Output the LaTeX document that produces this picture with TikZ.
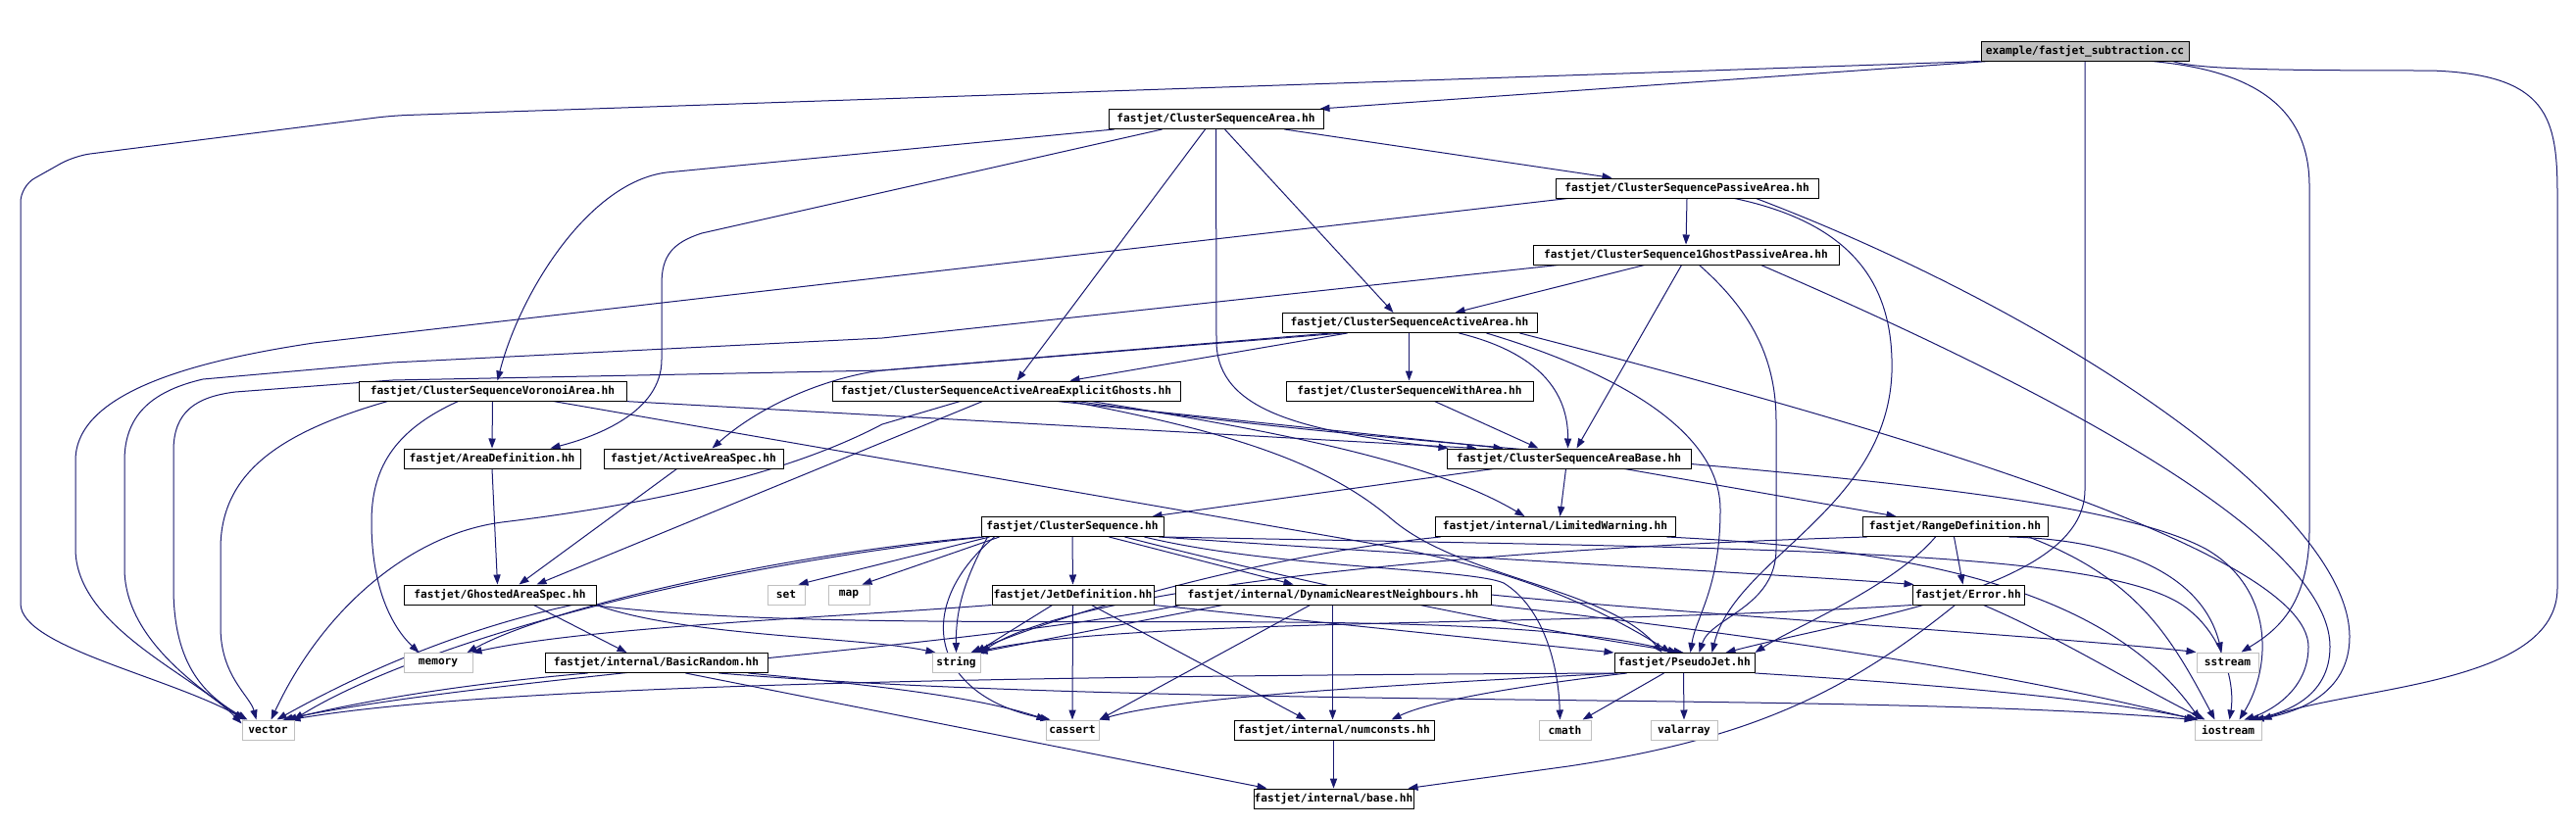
\documentclass[tikz,border=0pt]{standalone}
\usepackage{fontspec}
\newfontfamily\dmono{DejaVu Sans Mono}
\usetikzlibrary{arrows.meta,calc}
\pgfdeclarelayer{bg}
\pgfsetlayers{bg,main}
\definecolor{edgecol}{HTML}{191970}
\definecolor{syscol}{HTML}{BFBFBF}
\tikzset{
  hdr/.style={draw=black, fill=white, line width=0.5pt, inner sep=0pt, minimum height=10pt,
    font=\dmono\bfseries\fontsize{5.6}{6.5}\selectfont, text=black},
  sys/.style={hdr, draw=syscol},
  edg/.style={draw=edgecol, line width=0.5pt, -{Triangle[length=5pt,width=3.6pt]}},
}
\begin{document}
\begin{tikzpicture}[x=0.5pt,y=-0.5pt]
\useasboundingbox (0,0) rectangle (2628,842);
% ---------------- nodes ----------------
\node[hdr, fill=syscol, minimum width=106pt] (sub) at (2127,52) {example/fastjet\_subtraction.cc};
\node[hdr, minimum width=109.5pt] (csa) at (1240.5,121.5) {fastjet/ClusterSequenceArea.hh};
\node[hdr, minimum width=134pt] (cspa) at (1721,192) {fastjet/ClusterSequencePassiveArea.hh};
\node[hdr, minimum width=156pt] (cs1g) at (1720,260) {fastjet/ClusterSequence1GhostPassiveArea.hh};
\node[hdr, minimum width=130pt] (csaa) at (1438,329.5) {fastjet/ClusterSequenceActiveArea.hh};
\node[hdr, minimum width=136.5pt] (csva) at (502.5,399) {fastjet/ClusterSequenceVoronoiArea.hh};
\node[hdr, minimum width=177.5pt] (csaeg) at (1026.5,399) {fastjet/ClusterSequenceActiveAreaExplicitGhosts.hh};
\node[hdr, minimum width=126pt] (cswa) at (1438,399) {fastjet/ClusterSequenceWithArea.hh};
\node[hdr, minimum width=90pt] (ad) at (502,468) {fastjet/AreaDefinition.hh};
\node[hdr, minimum width=91.5pt] (aas) at (707.5,468) {fastjet/ActiveAreaSpec.hh};
\node[hdr, minimum width=124.5pt] (csab) at (1600.5,468) {fastjet/ClusterSequenceAreaBase.hh};
\node[hdr, minimum width=93pt] (cs) at (1094,537.5) {fastjet/ClusterSequence.hh};
\node[hdr, minimum width=122.5pt] (lw) at (1586.5,537.5) {fastjet/internal/LimitedWarning.hh};
\node[hdr, minimum width=94.5pt] (rd) at (1994.5,537.5) {fastjet/RangeDefinition.hh};
\node[hdr, minimum width=98pt] (gas) at (510,607) {fastjet/GhostedAreaSpec.hh};
\node[sys, minimum width=19pt] (set) at (802,607) {set};
\node[sys, minimum width=21pt] (map) at (866,607) {map};
\node[hdr, minimum width=82.5pt] (jd) at (1094.5,607) {fastjet/JetDefinition.hh};
\node[hdr, minimum width=161pt] (dnn) at (1360,607) {fastjet/internal/DynamicNearestNeighbours.hh};
\node[hdr, minimum width=57pt] (err) at (2008,607) {fastjet/Error.hh};
\node[sys, minimum width=35pt] (memory) at (447,676.5) {memory};
\node[hdr, minimum width=113.5pt] (br) at (669.5,676.5) {fastjet/internal/BasicRandom.hh};
\node[sys, minimum width=24.5pt] (string) at (975.5,676.5) {string};
\node[hdr, minimum width=71.5pt] (pj) at (1718.5,676.5) {fastjet/PseudoJet.hh};
\node[sys, minimum width=31.5pt] (sstream) at (2272.5,676) {sstream};
\node[sys, minimum width=26.5pt] (vector) at (273.5,745) {vector};
\node[sys, minimum width=27pt] (cassert) at (1094,745) {cassert};
\node[hdr, minimum width=102pt] (numconsts) at (1361,745) {fastjet/internal/numconsts.hh};
\node[sys, minimum width=26.5pt] (cmath) at (1596.5,745) {cmath};
\node[sys, minimum width=34pt] (valarray) at (1718,745) {valarray};
\node[sys, minimum width=34pt] (iostream) at (2273,745) {iostream};
\node[hdr, minimum width=81.5pt] (base) at (1360.5,815) {fastjet/internal/base.hh};
% ---------------- edges ----------------
\begin{pgfonlayer}{bg}
\fill[white] (0,0) rectangle (2628,842);
% sub
\draw[edg] ($(sub.south west)+(8,0)$) -- ($(csa.north east)+(-4,0)$);
\draw[edg,rounded corners=8pt] (sub.south west) -- (400,118) -- (76,159) -- (21,190) -- (21,600) .. controls (21,660) and (170,690) .. ($(vector.north west)+(4,0)$);
\draw[edg] (sub.south) -- (2127,500) .. controls (2127,600) and (1900,630) .. ($(pj.north west)+(114,0)$);
\draw[edg] ($(sub.south east)+(-38,0)$) .. controls (2300,72) and (2356,110) .. (2356,190) -- (2356,540) .. controls (2356,620) and (2320,645) .. ($(sstream.north west)+(46,0)$);
\draw[edg] ($(sub.south east)+(-17,0)$) .. controls (2240,70) and (2300,72) .. (2480,72) .. controls (2600,76) and (2609,120) .. (2609,200) -- (2609,600) .. controls (2609,700) and (2400,700) .. (iostream.north east);
% csa
\draw[edg] ($(csa.south west)+(180,0)$) -- ($(cspa.north west)+(58,0)$);
\draw[edg] ($(csa.south west)+(6,0)$) -- (680,176) .. controls (600,186) and (530,300) .. ($(csva.north west)+(142,0)$);
\draw[edg] ($(csa.south west)+(55,0)$) -- (716,238) .. controls (685,248) and (675,262) .. (675,290) -- (675,367) .. controls (675,420) and (610,445) .. ($(ad.north west)+(150,0)$);
\draw[edg] ($(csa.south west)+(99,0)$) -- ($(csaeg.north west)+(189,0)$);
\draw[edg] (csa.south) -- (1241,350) .. controls (1243,420) and (1330,440) .. ($(csab.north west)+(2,0)$);
\draw[edg] ($(csa.south)+(9,0)$) -- ($(csaa.north west)+(114,0)$);
% cspa
\draw[edg] (cspa.south) -- (cs1g.north);
\draw[edg] ($(cspa.south west)+(13,0)$) -- (320,350) .. controls (200,368) and (77,400) .. (77,470) -- (77,560) .. controls (77,640) and (200,690) .. ($(vector.north west)+(0,4)$);
\draw[edg] ($(cspa.south west)+(183,0)$) .. controls (1900,230) and (1932,300) .. (1930,380) .. controls (1925,520) and (1770,570) .. ($(pj.north west)+(100,0)$);
\draw[edg] ($(cspa.south west)+(205,0)$) .. controls (2100,320) and (2397,520) .. (2397,650) .. controls (2397,710) and (2340,728) .. ($(iostream.north west)+(61,0)$);
% cs1g
\draw[edg] ($(cs1g.south west)+(114,0)$) -- ($(csaa.north west)+(177,0)$);
\draw[edg] ($(cs1g.south west)+(152,0)$) -- ($(csab.north west)+(133,0)$);
\draw[edg] ($(cs1g.south west)+(170,0)$) .. controls (1790,320) and (1812,370) .. (1812,430) -- (1812,560) .. controls (1812,620) and (1745,630) .. ($(pj.north west)+(87,0)$);
\draw[edg] ($(cs1g.south west)+(26,0)$) -- (900,345) -- (400,370) -- (207,387) .. controls (160,398) and (127,420) .. (127,470) -- (127,580) .. controls (127,650) and (200,700) .. ($(vector.north west)+(2,0)$);
\draw[edg] ($(cs1g.south east)+(-80,0)$) .. controls (2050,380) and (2377,540) .. (2377,660) .. controls (2377,712) and (2330,728) .. ($(iostream.north west)+(56,0)$);
% csaa
\draw[edg] ($(csaa.south west)+(130,0)$) -- ($(cswa.north west)+(126,0)$);
\draw[edg] ($(csaa.south west)+(67,0)$) -- ($(csaeg.north west)+(243,0)$);
\draw[edg] ($(csaa.south west)+(181,0)$) .. controls (1570,360) and (1600,400) .. ($(csab.north west)+(124,0)$);
\draw[edg] ($(csaa.south west)+(62,0)$) -- (900,378) .. controls (850,384) and (780,410) .. ($(aas.north west)+(111,0)$);
\draw[edg] ($(csaa.south west)+(50,0)$) -- (900,378) -- (400,388) -- (240,400) .. controls (200,405) and (177,420) .. (177,460) -- (177,600) .. controls (177,680) and (210,710) .. ($(vector.north west)+(6,0)$);
\draw[edg] ($(csaa.south east)+(-52,0)$) .. controls (1650,380) and (1755,440) .. (1755,520) .. controls (1755,600) and (1730,630) .. ($(pj.north west)+(78,0)$);
\draw[edg] ($(csaa.south east)+(-18,0)$) .. controls (1900,430) and (2355,560) .. (2355,660) .. controls (2355,708) and (2310,728) .. ($(iostream.north west)+(51,0)$);
% csva
\draw[edg] (csva.south) -- (ad.north);
\draw[edg] ($(csva.south east)+(-2,0)$) -- ($(csab.north west)+(31,0)$);
\draw[edg] ($(csva.south west)+(102,0)$) .. controls (400,440) and (379,480) .. (379,533) .. controls (379,600) and (400,640) .. ($(memory.north west)+(16,0)$);
\draw[edg] ($(csva.south west)+(30,0)$) .. controls (290,440) and (225,480) .. (225,560) -- (225,640) .. controls (225,690) and (255,710) .. ($(vector.north west)+(15,0)$);
\draw[edg] ($(csva.south east)+(-75,0)$) -- (1390,553) .. controls (1500,572) and (1600,600) .. ($(pj.north west)+(58,0)$);
% csaeg
\draw[edg] ($(csaeg.south west)+(230,0)$) -- ($(csab.north west)+(58,0)$);
\draw[edg] ($(csaeg.south west)+(265,0)$) .. controls (1300,440) and (1460,470) .. ($(lw.north west)+(92,0)$);
\draw[edg] ($(csaeg.south west)+(243,0)$) .. controls (1250,440) and (1350,470) .. (1420,530) .. controls (1490,590) and (1640,600) .. ($(pj.north west)+(49,0)$);
\draw[edg] ($(csaeg.south west)+(251,0)$) .. controls (1500,470) and (2100,480) .. (2250,560) .. controls (2320,600) and (2318,680) .. ($(iostream.north west)+(46,0)$);
\draw[edg] ($(csaeg.south west)+(154,0)$) -- ($(gas.north west)+(136,0)$);
\draw[edg] ($(csaeg.south west)+(131,0)$) -- (900,433) .. controls (820,475) and (700,510) .. (512,533) .. controls (420,545) and (330,620) .. ($(vector.north west)+(30,0)$);
% cswa, ad, aas
\draw[edg] ($(cswa.south west)+(152,0)$) -- ($(csab.north west)+(94,0)$);
\draw[edg] (ad.south) -- ($(gas.north west)+(96,0)$);
\draw[edg] ($(aas.south west)+(75,0)$) -- ($(gas.north west)+(118,0)$);
% csab
\draw[edg] ($(csab.south west)+(48,0)$) -- ($(cs.north east)+(-12,0)$);
\draw[edg] ($(csab.south west)+(122,0)$) -- ($(lw.north west)+(128,0)$);
\draw[edg] ($(csab.south west)+(182,0)$) -- ($(rd.north west)+(35,0)$);
% cs
\draw[edg] (cs.south) -- (jd.north);
\draw[edg] ($(cs.south west)+(131,0)$) -- ($(dnn.north west)+(121,0)$);
\draw[edg] ($(cs.south west)+(9,0)$) -- ($(set.north west)+(32,0)$);
\draw[edg] ($(cs.south west)+(19,0)$) -- ($(map.north west)+(35,0)$);
\draw[edg] ($(cs.south west)+(7,0)$) .. controls (985,590) and (975,620) .. ($(string.north west)+(25,0)$);
\draw[edg] (cs.south west) .. controls (800,565) and (560,620) .. ($(memory.north west)+(65,0)$);
\draw[edg] ($(cs.south west)+(3,0)$) .. controls (700,580) and (420,660) .. ($(vector.north west)+(53,0)$);
\draw[edg] ($(cs.south west)+(14,0)$) .. controls (930,620) and (950,710) .. ($(cassert.north west)+(5,0)$);
\draw[edg] (cs.south east) .. controls (1800,560) and (2150,560) .. (2230,620) .. controls (2270,650) and (2280,700) .. ($(iostream.north west)+(36,0)$);
\draw[edg] ($(cs.south east)+(-20,0)$) .. controls (1300,580) and (1500,580) .. (1534,595) .. controls (1575,620) and (1590,680) .. ($(cmath.north west)+(22,0)$);
\draw[edg] ($(cs.south east)+(-40,0)$) .. controls (1350,600) and (1550,640) .. ($(pj.north west)+(71,0)$);
\draw[edg] ($(cs.south east)+(-5,0)$) .. controls (1500,570) and (1800,585) .. ($(err.north west)+(2,0)$);
% lw
\draw[edg] ($(lw.south east)+(-9,0)$) .. controls (1950,560) and (2150,600) .. ($(iostream.north west)+(6,0)$);
\draw[edg] ($(lw.south west)+(6,0)$) .. controls (1300,565) and (1100,620) .. ($(string.north west)+(40,0)$);
% rd
\draw[edg] ($(rd.south west)+(75,0)$) .. controls (1930,600) and (1830,640) .. (pj.north east);
\draw[edg] ($(rd.south west)+(94,0)$) -- ($(err.north west)+(52,0)$);
\draw[edg] ($(rd.south west)+(150,0)$) .. controls (2150,550) and (2245,580) .. ($(sstream.north west)+(26,0)$);
\draw[edg] ($(rd.south west)+(170,0)$) .. controls (2180,590) and (2215,650) .. ($(iostream.north west)+(21,0)$);
\draw[edg] ($(rd.south west)+(5,0)$) .. controls (1500,560) and (1100,600) .. (string.north east);
% gas
\draw[edg] ($(gas.south west)+(172,0)$) .. controls (480,640) and (380,680) .. ($(vector.north west)+(36,0)$);
\draw[edg] (gas.south east) .. controls (700,650) and (880,650) .. ($(string.north west)+(4,0)$);
\draw[edg] ($(gas.south east)+(-4,0)$) .. controls (900,655) and (1500,610) .. ($(pj.north west)+(65,0)$);
\draw[edg] ($(gas.south west)+(133,0)$) -- ($(br.north west)+(84,0)$);
% jd
\draw[edg] (jd.south) -- (cassert.north);
\draw[edg] ($(jd.south west)+(102,0)$) -- ($(numconsts.north west)+(74,0)$);
\draw[edg] (jd.south east) -- (pj.north west);
\draw[edg] ($(jd.south west)+(62,0)$) -- ($(string.north west)+(45,0)$);
\draw[edg] (jd.south west) .. controls (850,630) and (600,640) .. ($(memory.north west)+(70,0)$);
% dnn
\draw[edg] ($(dnn.south west)+(6,0)$) .. controls (1000,660) and (500,690) .. ($(vector.north west)+(42,0)$);
\draw[edg] ($(dnn.south west)+(49,0)$) -- ($(string.north west)+(47,0)$);
\draw[edg] (dnn.south east) .. controls (1900,660) and (2100,700) .. ($(iostream.north west)+(2,0)$);
\draw[edg] (dnn.east) .. controls (1700,625) and (2100,650) .. (sstream.north west);
\draw[edg] ($(dnn.south west)+(138,0)$) -- (cassert.north east);
\draw[edg] ($(dnn.south west)+(161,0)$) -- ($(numconsts.north west)+(101,0)$);
% err
\draw[edg] (err.south west) .. controls (1600,640) and (1150,630) .. ($(string.north west)+(43,0)$);
\draw[edg] ($(err.south west)+(44,0)$) .. controls (1880,710) and (1780,755) .. (1600,782) -- ($(base.north east)+(-6,0)$);
\draw[edg] ($(err.south west)+(73,0)$) .. controls (2100,650) and (2180,700) .. ($(iostream.north west)+(11,0)$);
% br
\draw[edg] ($(br.south east)+(-50,0)$) .. controls (1200,725) and (1900,705) .. (iostream.north west);
\draw[edg] ($(br.south west)+(44,0)$) .. controls (450,700) and (350,720) .. ($(vector.north west)+(46,0)$);
\draw[edg] ($(br.south east)+(-20,0)$) .. controls (900,700) and (1000,712) .. ($(cassert.north west)+(1,0)$);
\draw[edg] ($(br.south west)+(144,0)$) -- ($(base.north west)+(14,0)$);
% pj
\draw[edg] ($(pj.south west)+(71,0)$) -- (valarray.north);
\draw[edg] ($(pj.south west)+(51,0)$) -- ($(cmath.north west)+(45,0)$);
\draw[edg] ($(pj.south west)+(13,0)$) .. controls (1550,700) and (1460,715) .. ($(numconsts.north west)+(161,0)$);
\draw[edg] ($(pj.south west)+(4,0)$) .. controls (1400,700) and (1200,712) .. (cassert.north east);
\draw[edg] (pj.south west) .. controls (1000,690) and (500,700) .. ($(vector.north west)+(50,0)$);
\draw[edg] (pj.south east) .. controls (2000,700) and (2150,715) .. ($(iostream.north west)+(4,0)$);
% numconsts
\draw[edg] ($(numconsts.south west)+(102,0)$) -- ($(base.north west)+(82,0)$);
\end{pgfonlayer}
\end{tikzpicture}
\end{document}
